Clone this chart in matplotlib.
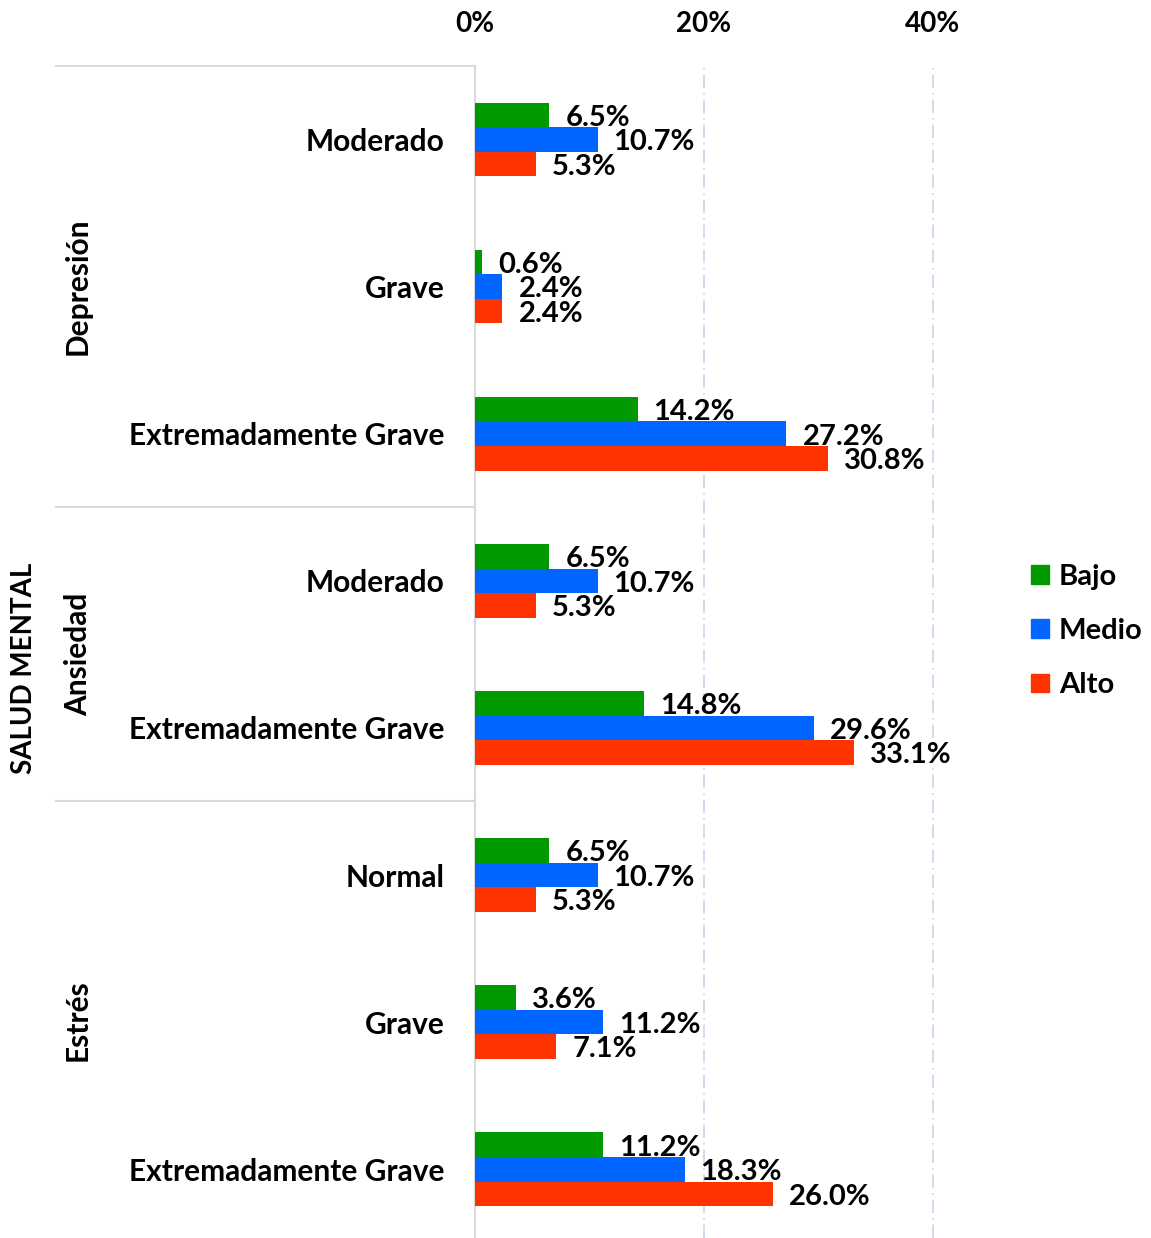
import matplotlib
matplotlib.use("Agg")
import matplotlib.pyplot as plt
import matplotlib.transforms as mtransforms
from matplotlib.lines import Line2D
from matplotlib.patches import Patch

# ---- data ----
categories = ["Moderado", "Grave", "Extremadamente Grave",
              "Moderado", "Extremadamente Grave",
              "Normal", "Grave", "Extremadamente Grave"]
groups = ["Depresión", "Ansiedad", "Estrés"]
group_sizes = [3, 2, 3]
series_names = ["Bajo", "Medio", "Alto"]
bajo = [6.5, 0.6, 14.2, 6.5, 14.8, 6.5, 3.6, 11.2]
medio = [10.7, 2.4, 27.2, 10.7, 29.6, 10.7, 11.2, 18.3]
alto = [5.3, 2.4, 30.8, 5.3, 33.1, 5.3, 7.1, 26.0]
x_ticks = [0, 20, 40]
outer_label = "SALUD MENTAL"

colors = ["#009900", "#0066FF", "#FF3300"]
FONT = "Lato"
plt.rcParams['font.family'] = [FONT, 'DejaVu Sans']

W, H = 1151, 1238
fig = plt.figure(figsize=(W / 100, H / 100), dpi=100)
px_per_pct = 11.45
xmax = 48
ax_left = 475 / W
ax_width = xmax * px_per_pct / W
ax_top_px = 66
ax = fig.add_axes([ax_left, 0, ax_width, 1 - ax_top_px / H])

n = len(categories)
spacing_px = 147.1
axes_h_px = H - ax_top_px
ylim_bottom = -0.5 + axes_h_px / spacing_px
bh = 1 / 6
offsets = [-bh, 0, bh]
all_series = [bajo, medio, alto]
ys = list(range(n))
for s, (vals, off, c, name) in enumerate(zip(all_series, offsets, colors, series_names)):
    ypos = [y + off for y in ys]
    ax.barh(ypos, vals, height=bh, color=c, label=name, zorder=3)
    for yy, v in zip(ypos, vals):
        ax.annotate(f"{v:.1f}%", (v, yy), xytext=(11.5, -2), textcoords="offset points",
                    ha="left", va="center", fontsize=21, fontweight="bold", color="black",
                    zorder=4)

ax.set_xlim(0, xmax)
ax.set_ylim(ylim_bottom, -0.5)
ax.xaxis.tick_top()
ax.set_xticks(x_ticks)
ax.set_xticklabels([f"{t}%" for t in x_ticks], fontsize=20, fontweight="bold")
ax.tick_params(axis="x", length=0, pad=21)
ax.set_yticks(ys)
ax.set_yticklabels(categories, fontsize=21.5, fontweight="bold")
ax.tick_params(axis="y", length=0, pad=22)
for sp in ["top", "right", "bottom"]:
    ax.spines[sp].set_visible(False)
ax.spines["left"].set_color("#d9d9d9")
ax.spines["left"].set_linewidth(1.5)
for t in x_ticks[1:]:
    ax.axvline(t, color="#c8d6ec", linestyle=(0, (8, 3, 1, 3)), linewidth=1.2, zorder=1)

# group separators and labels
blend = mtransforms.blended_transform_factory(fig.transFigure, ax.transData)
start = 0
bounds = [-0.5]
for g, size in zip(groups, group_sizes):
    end = start + size
    bounds.append(end - 0.5)
    center = (start - 0.5 + end - 0.5) / 2
    if g == groups[-1]:
        center = (start - 0.5 + ylim_bottom) / 2
    ax.text(78 / W, center, g, transform=blend, rotation=90, ha="center", va="center",
            fontsize=21.5, fontweight="bold")
    start = end
for b in bounds[:-1]:
    ax.add_line(Line2D([56 / W, ax_left], [b, b], transform=blend, color="#d9d9d9",
                       linewidth=1.5, clip_on=False))

fig.text(24 / W, 1 - 668 / H, outer_label, rotation=90, ha="center", va="center",
         fontsize=20, fontweight="bold")

handles = [Patch(color=c, label=nm) for c, nm in zip(colors, series_names)]
fig.legend(handles=handles, loc="center left", bbox_to_anchor=(1031 / W, 1 - 631 / H),
           frameon=False, prop={"size": 21, "weight": "bold"}, handlelength=0.6,
           handleheight=0.6, handletextpad=0.35, labelspacing=0.97,
           borderpad=0, borderaxespad=0)

fig.savefig("out.png", dpi=100)
